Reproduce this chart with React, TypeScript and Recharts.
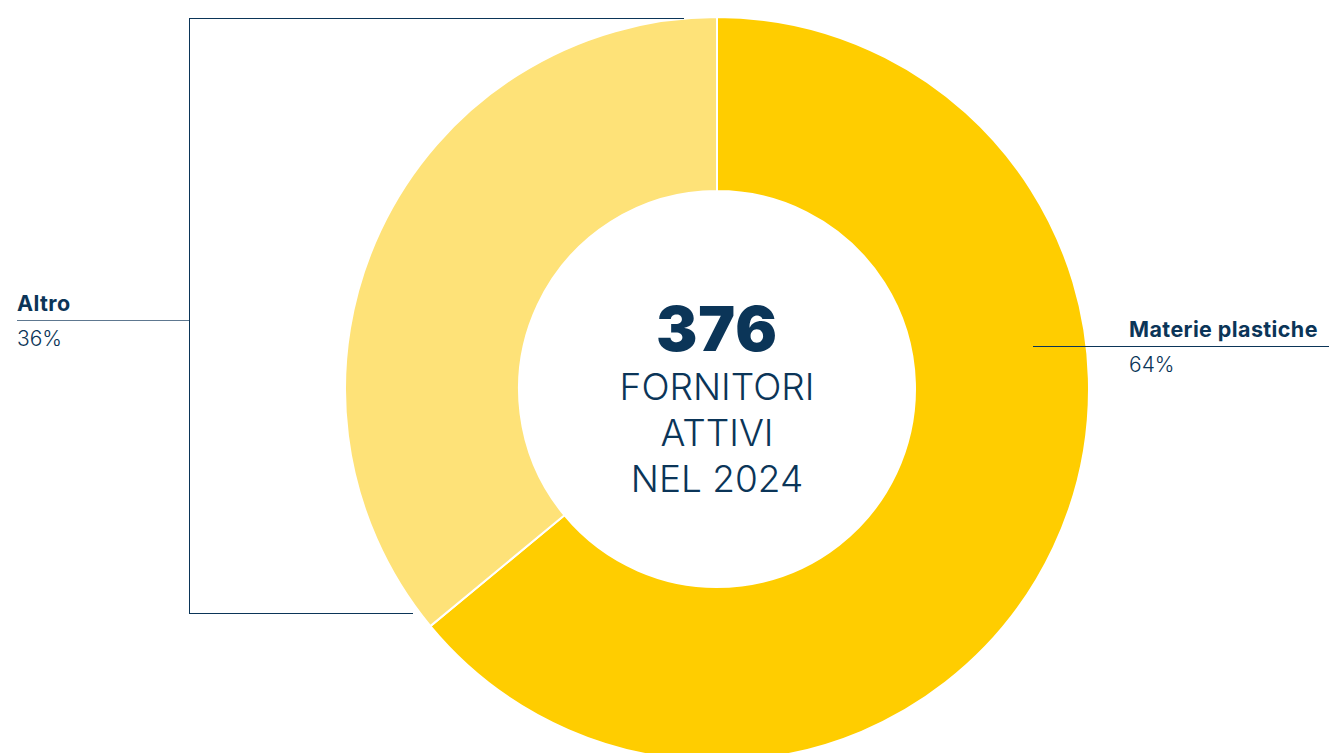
import { Cell, Pie, PieChart } from "recharts";

const categories = ["Materie plastiche", "Altro"];
const shares = [64, 36];
const sliceColors = ["#FFCD00", "#FEE278"];
const totalSuppliers = 376;
const centerLines = ["FORNITORI", "ATTIVI", "NEL 2024"];

const NAVY = "#0B3558";
const FONT = "Inter, 'Noto Sans', sans-serif";

const data = categories.map((name, i) => ({ name, value: shares[i] }));

function LabelBlock({
  x,
  y,
  title,
  pct,
}: {
  x: number;
  y: number;
  title: string;
  pct: number;
}) {
  return (
    <div style={{ position: "absolute", left: x, top: y, color: NAVY, fontFamily: FONT }}>
      <div
        style={{
          fontSize: 21.5,
          fontWeight: 700,
          lineHeight: "26px",
          whiteSpace: "nowrap",
          letterSpacing: 0.4,
        }}
      >
        {title}
      </div>
      <div style={{ fontSize: 21, fontWeight: 300, lineHeight: "26px", marginTop: 10 }}>
        {pct}%
      </div>
    </div>
  );
}

export default function App() {
  const W = 1329;
  const H = 753;
  return (
    <div
      style={{
        position: "absolute",
        left: 0,
        top: 0,
        width: W,
        height: H,
        overflow: "hidden",
        background: "#fff",
      }}
    >
      <PieChart width={W} height={H} margin={{ top: 0, right: 0, bottom: 0, left: 0 }}>
        <Pie
          data={data}
          dataKey="value"
          nameKey="name"
          cx={717}
          cy={389}
          innerRadius={198}
          outerRadius={372}
          startAngle={90}
          endAngle={-270}
          stroke="#fff"
          strokeWidth={2}
          isAnimationActive={false}
        >
          {data.map((d, i) => (
            <Cell key={d.name} fill={sliceColors[i]} />
          ))}
        </Pie>
      </PieChart>

      {/* bracket for Altro */}
      <div style={{ position: "absolute", left: 189, top: 18, width: 495, height: 0, borderTop: `1.5px solid ${NAVY}` }} />
      <div style={{ position: "absolute", left: 189, top: 18, width: 0, height: 596, borderLeft: `1.5px solid ${NAVY}` }} />
      <div style={{ position: "absolute", left: 189, top: 613, width: 224, height: 0, borderTop: `1.5px solid ${NAVY}` }} />
      <div style={{ position: "absolute", left: 17, top: 320, width: 172, height: 0, borderTop: `1px solid #5E7890` }} />
      <LabelBlock x={17} y={290} title={categories[1]} pct={shares[1]} />

      {/* Materie plastiche */}
      <div style={{ position: "absolute", left: 1033, top: 346, width: 296, height: 0, borderTop: `1px solid ${NAVY}` }} />
      <LabelBlock x={1129} y={316} title={categories[0]} pct={shares[0]} />

      {/* center text */}
      <div
        style={{
          position: "absolute",
          left: 517,
          width: 400,
          top: 294,
          textAlign: "center",
          color: NAVY,
          fontFamily: FONT,
        }}
      >
        <div style={{ fontSize: 62, fontWeight: 900, lineHeight: "70px", letterSpacing: 1 }}>
          {totalSuppliers}
        </div>
        {centerLines.map((t) => (
          <div key={t} style={{ fontSize: 37, fontWeight: 300, lineHeight: "46px" }}>
            {t}
          </div>
        ))}
      </div>
    </div>
  );
}
